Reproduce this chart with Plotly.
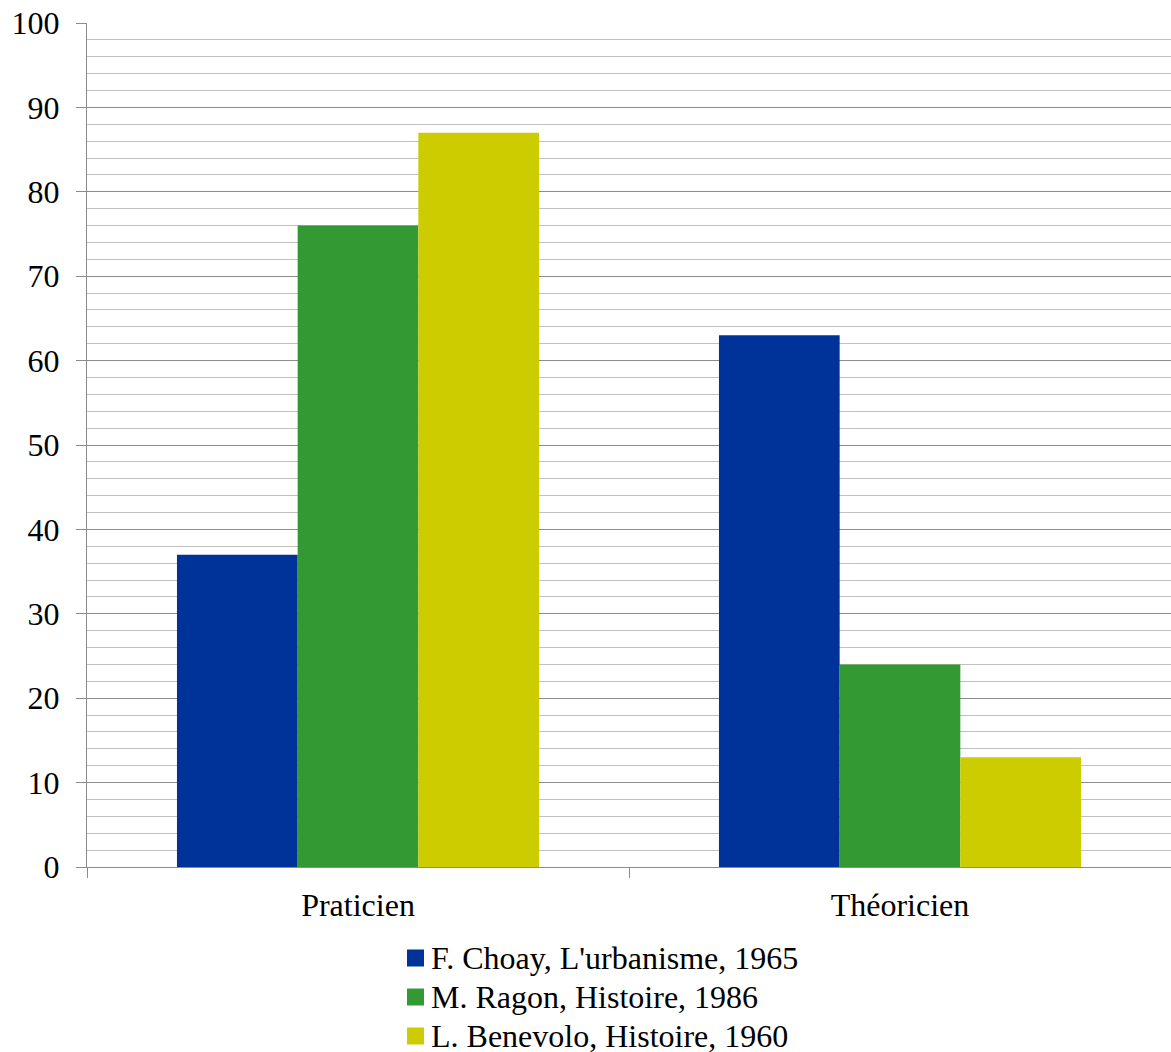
import plotly.graph_objects as go

categories = ["Praticien", "Théoricien"]
series_names = [
    "F. Choay, L'urbanisme, 1965",
    "M. Ragon, Histoire, 1986",
    "L. Benevolo, Histoire, 1960",
]
series_values = [
    [37, 63],
    [76, 24],
    [87, 13],
]
colors = ["#003399", "#339933", "#CCCC00"]

font_family = "Liberation Serif, Times New Roman, serif"

W, H = 1171, 1052
M_L, M_R, M_T, M_B = 87, 0, 23, 185
plot_w = W - M_L - M_R
plot_h = H - M_T - M_B


def px_to_paper_x(x):
    return (x - M_L) / plot_w


def px_to_paper_y(y):
    return (H - M_B - y) / plot_h


fig = go.Figure()
for name, vals, col in zip(series_names, series_values, colors):
    fig.add_trace(go.Bar(
        x=categories, y=vals, name=name, showlegend=False,
        marker=dict(color=col, line=dict(width=0)),
    ))

# legend below the plot: colour swatch + series name per row
legend_row_top = 958
legend_row_step = 39
swatch_left = 407
swatch_size = 17
text_left = 429
for i, (name, col) in enumerate(zip(series_names, colors)):
    cy = legend_row_top + i * legend_row_step
    fig.add_shape(
        type="rect", xref="paper", yref="paper",
        x0=px_to_paper_x(swatch_left), x1=px_to_paper_x(swatch_left + swatch_size),
        y0=px_to_paper_y(cy + swatch_size / 2), y1=px_to_paper_y(cy - swatch_size / 2),
        fillcolor=col, line=dict(width=0),
    )
    fig.add_annotation(
        xref="paper", yref="paper",
        x=px_to_paper_x(text_left), y=px_to_paper_y(cy),
        xanchor="left", yanchor="middle", showarrow=False,
        text=name, font=dict(size=32, family=font_family, color="black"),
    )

fig.update_layout(
    width=W, height=H,
    margin=dict(l=M_L, r=M_R, t=M_T, b=M_B, autoexpand=False),
    paper_bgcolor="white", plot_bgcolor="white",
    barmode="group", bargap=0.332, bargroupgap=0,
    font=dict(family=font_family, size=32, color="black"),
    showlegend=False,
)
fig.update_xaxes(
    showline=True, linecolor="#8c8c8c", linewidth=1,
    ticks="outside", tickson="boundaries", ticklen=10, tickcolor="#8c8c8c",
    showgrid=False, tickfont=dict(size=32), ticklabelstandoff=10,
)
fig.update_yaxes(
    range=[0, 100], dtick=10, tick0=0,
    showline=True, linecolor="#8c8c8c", linewidth=1,
    ticks="outside", ticklen=10, tickcolor="#8c8c8c",
    showgrid=True, gridcolor="#8c8c8c", gridwidth=1,
    minor=dict(dtick=2, showgrid=True, gridcolor="#c0c0c0", gridwidth=1, ticks=""),
    zeroline=False, ticklabelstandoff=10, tickfont=dict(size=32),
)

fig.write_html("out.html")
